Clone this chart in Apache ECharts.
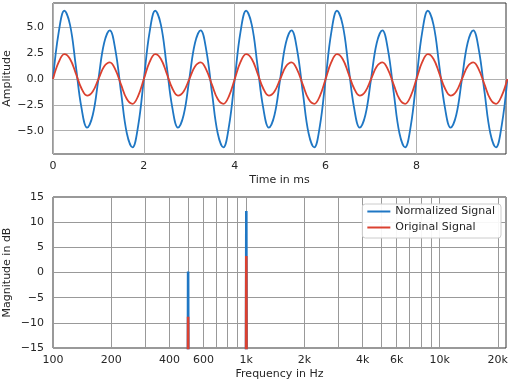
<!DOCTYPE html>
<html><head><meta charset="utf-8">
<script src="https://cdn.jsdelivr.net/npm/echarts@6/dist/echarts.min.js"></script>
<style>html,body{margin:0;padding:0;background:#fff}#c{width:512px;height:384px}</style>
</head><body><div id="c"></div>
<script>
// ---- time domain (ms) ----
const timeMs = [
  0,0.125,0.25,0.375,0.5,0.625,0.75,0.875,1,1.125,1.25,1.375,1.5,1.625,1.75,1.875,
  2,2.125,2.25,2.375,2.5,2.625,2.75,2.875,3,3.125,3.25,3.375,3.5,3.625,3.75,3.875,
  4,4.125,4.25,4.375,4.5,4.625,4.75,4.875,5,5.125,5.25,5.375,5.5,5.625,5.75,5.875,
  6,6.125,6.25,6.375,6.5,6.625,6.75,6.875,7,7.125,7.25,7.375,7.5,7.625,7.75,7.875,
  8,8.125,8.25,8.375,8.5,8.625,8.75,8.875,9,9.125,9.25,9.375,9.5,9.625,9.75,9.875,
  10
];
const normalizedWave = [
  0,4.51,6.60,5.24,1.35,-2.75,-4.70,-3.48,0,3.48,4.70,2.75,-1.35,-5.24,-6.60,-4.51,
  0,4.51,6.60,5.24,1.35,-2.75,-4.70,-3.48,0,3.48,4.70,2.75,-1.35,-5.24,-6.60,-4.51,
  0,4.51,6.60,5.24,1.35,-2.75,-4.70,-3.48,0,3.48,4.70,2.75,-1.35,-5.24,-6.60,-4.51,
  0,4.51,6.60,5.24,1.35,-2.75,-4.70,-3.48,0,3.48,4.70,2.75,-1.35,-5.24,-6.60,-4.51,
  0,4.51,6.60,5.24,1.35,-2.75,-4.70,-3.48,0,3.48,4.70,2.75,-1.35,-5.24,-6.60,-4.51,
  0
];
const originalWave = [
  0,1.63,2.40,1.94,0.57,-0.89,-1.60,-1.20,0,1.20,1.60,0.89,-0.57,-1.94,-2.40,-1.63,
  0,1.63,2.40,1.94,0.57,-0.89,-1.60,-1.20,0,1.20,1.60,0.89,-0.57,-1.94,-2.40,-1.63,
  0,1.63,2.40,1.94,0.57,-0.89,-1.60,-1.20,0,1.20,1.60,0.89,-0.57,-1.94,-2.40,-1.63,
  0,1.63,2.40,1.94,0.57,-0.89,-1.60,-1.20,0,1.20,1.60,0.89,-0.57,-1.94,-2.40,-1.63,
  0,1.63,2.40,1.94,0.57,-0.89,-1.60,-1.20,0,1.20,1.60,0.89,-0.57,-1.94,-2.40,-1.63,
  0
];
const timeTicks = [0, 2, 4, 6, 8];
const ampTicks = [-5, -2.5, 0, 2.5, 5];

// ---- frequency domain ----
const freqHz = [100, 496, 500, 504, 992, 1000, 1008, 22050];
const normalizedDb = [-60, -60, 0.2, -60, -60, 12.2, -60, -60];
const originalDb = [-60, -60, -8.8, -60, -60, 3.3, -60, -60];
const freqGridHz = [100,200,300,400,500,600,700,800,900,1000,2000,3000,4000,5000,6000,7000,8000,9000,10000,20000];
const freqTicks = [100, 200, 400, 600, 1000, 2000, 4000, 6000, 10000, 20000];
const seriesNames = ['Normalized Signal', 'Original Signal'];

const FONT = 'DejaVu Sans';
const TXT = '#262626';
const BLUE = '#1f77c4';
const RED = '#db4130';
const minus = v => (v < 0 ? '\u2212' : '');
const fmtFreq = f => (f >= 1000 ? (f / 1000) + 'k' : String(f));

const chart = echarts.init(document.getElementById('c'), null, {renderer: 'canvas'});
const lbl = {fontFamily: FONT, fontSize: 11, color: TXT};

chart.setOption({
  animation: false,
  backgroundColor: '#fff',
  textStyle: {fontFamily: FONT},
  grid: [
    {left: 53, right: 6, top: 3, height: 151, containLabel: false, outerBoundsMode: 'none',
     show: true, borderColor: '#333', borderWidth: 1},
    {left: 53, right: 6, top: 197, height: 151, containLabel: false, outerBoundsMode: 'none',
     show: true, borderColor: '#333', borderWidth: 1}
  ],
  legend: {
    data: seriesNames,
    orient: 'vertical', right: 11, top: 204, z: 20,
    icon: 'rect', itemWidth: 23, itemHeight: 2, itemGap: 5, itemTextGap: 9,
    padding: [2, 6, 5, 5],
    borderColor: '#cccccc', borderWidth: 1, borderRadius: 3,
    backgroundColor: 'rgba(255,255,255,0.92)',
    textStyle: lbl
  },
  xAxis: [
    {
      gridIndex: 0, type: 'value', min: 0, max: 9.97,
      name: 'Time in ms', nameLocation: 'middle', nameGap: 21, nameTextStyle: lbl,
      nameMoveOverlap: false,
      axisLine: {show: false}, axisTick: {show: false, customValues: timeTicks},
      axisLabel: Object.assign({customValues: timeTicks, margin: 7}, lbl),
      splitLine: {show: true, lineStyle: {color: '#b0b0b0', width: 1}}
    },
    {
      gridIndex: 1, type: 'log', logBase: 10, min: 100, max: 22050,
      name: 'Frequency in Hz', nameLocation: 'middle', nameGap: 21, nameTextStyle: lbl,
      nameMoveOverlap: false,
      axisLine: {show: false}, axisTick: {show: false},
      axisLabel: {show: false},
      splitLine: {show: false}
    }
  ],
  yAxis: [
    {
      gridIndex: 0, type: 'value', min: -7.25, max: 7.35,
      name: 'Amplitude', nameLocation: 'middle', nameGap: 40, nameTextStyle: lbl,
      nameMoveOverlap: false,
      axisLine: {show: false}, axisTick: {show: false, customValues: ampTicks},
      axisLabel: Object.assign({customValues: ampTicks, margin: 9,
        formatter: v => minus(v) + Math.abs(v).toFixed(1)}, lbl),
      splitLine: {show: true, lineStyle: {color: '#b0b0b0', width: 1}}
    },
    {
      gridIndex: 1, type: 'value', min: -15, max: 15, interval: 5,
      name: 'Magnitude in dB', nameLocation: 'middle', nameGap: 40, nameTextStyle: lbl,
      nameMoveOverlap: false,
      axisLine: {show: false}, axisTick: {show: false},
      axisLabel: Object.assign({margin: 9, formatter: v => minus(v) + Math.abs(v)}, lbl),
      splitLine: {show: true, lineStyle: {color: '#999999', width: 1}}
    }
  ],
  series: [
    {
      name: seriesNames[0], type: 'line', xAxisIndex: 0, yAxisIndex: 0,
      data: timeMs.map((t, i) => [t, normalizedWave[i]]),
      showSymbol: false, smooth: 0.4, clip: true,
      lineStyle: {color: BLUE, width: 1.8}, itemStyle: {color: BLUE}
    },
    {
      name: seriesNames[1], type: 'line', xAxisIndex: 0, yAxisIndex: 0,
      data: timeMs.map((t, i) => [t, originalWave[i]]),
      showSymbol: false, smooth: 0.4, clip: true,
      lineStyle: {color: RED, width: 1.8}, itemStyle: {color: RED}
    },
    {
      name: 'freq-grid', type: 'line', xAxisIndex: 1, yAxisIndex: 1, data: [], z: 0, zlevel: 0,
      markLine: {
        silent: true, symbol: 'none', animation: false, z: 0,
        lineStyle: {color: '#999999', width: 1, type: 'solid'},
        label: Object.assign({show: false, position: 'start', distance: 7,
          formatter: p => fmtFreq(p.value)}, lbl),
        emphasis: {disabled: true},
        data: freqGridHz.map(f => ({
          xAxis: f,
          label: {show: freqTicks.indexOf(f) >= 0}
        }))
      }
    },
    {
      name: seriesNames[0], type: 'line', xAxisIndex: 1, yAxisIndex: 1,
      data: freqHz.map((f, i) => [f, normalizedDb[i]]),
      showSymbol: false, clip: true, z: 5,
      lineStyle: {color: BLUE, width: 2.6}, itemStyle: {color: BLUE}
    },
    {
      name: seriesNames[1], type: 'line', xAxisIndex: 1, yAxisIndex: 1,
      data: freqHz.map((f, i) => [f, originalDb[i]]),
      showSymbol: false, clip: true, z: 6,
      lineStyle: {color: RED, width: 2.6}, itemStyle: {color: RED}
    }
  ]
});
</script></body></html>
